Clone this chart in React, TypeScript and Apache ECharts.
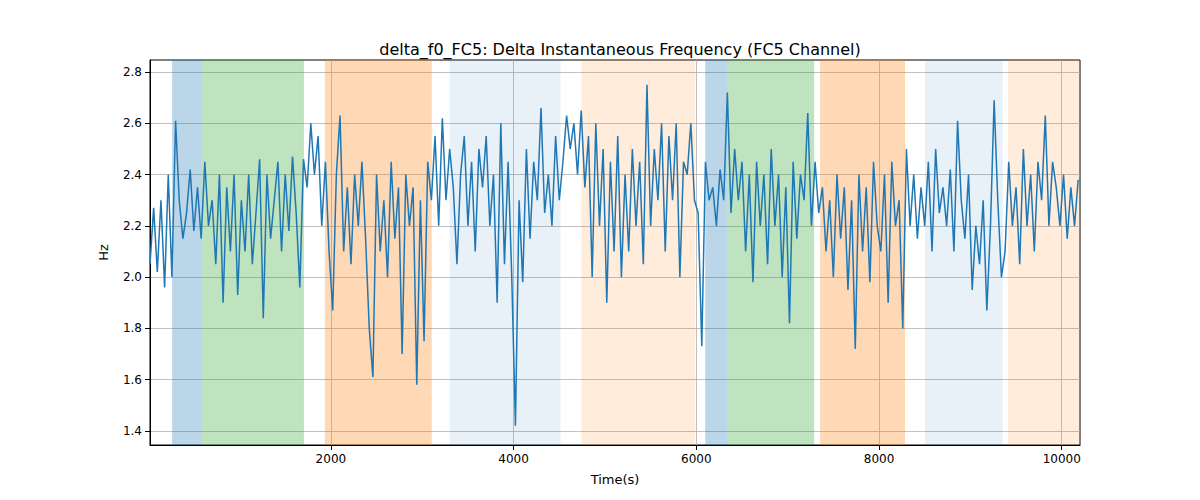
import React, { useEffect, useRef } from "react";
import * as echarts from "echarts";

const X_START = 20;
const X_STEP = 40;
const values = [
2.05,2.27,2.02,2.3,1.96,2.4,2.0,2.61,2.3,2.15,
2.25,2.42,2.18,2.35,2.15,2.45,2.2,2.3,2.05,2.4,
1.9,2.35,2.1,2.4,1.93,2.3,2.1,2.4,2.05,2.25,
2.46,1.84,2.4,2.15,2.3,2.45,2.1,2.4,2.18,2.47,
2.25,1.96,2.46,2.35,2.6,2.4,2.55,2.2,2.45,2.1,
1.87,2.4,2.63,2.1,2.35,2.05,2.4,2.2,2.45,2.15,
1.8,1.61,2.4,2.1,2.3,2.0,2.45,2.15,2.35,1.7,
2.4,2.2,2.35,1.58,2.3,1.75,2.45,2.3,2.55,2.2,
2.62,2.3,2.5,2.35,2.05,2.4,2.55,2.2,2.45,2.1,
2.5,2.35,2.55,2.2,2.4,1.9,2.6,2.05,2.45,2.0,
1.42,2.3,1.98,2.5,2.15,2.45,2.3,2.66,2.25,2.4,
2.2,2.55,2.3,2.45,2.63,2.5,2.6,2.4,2.65,2.35,
2.55,2.0,2.6,2.2,2.5,1.9,2.45,2.1,2.55,2.0,
2.4,2.1,2.5,2.2,2.45,2.05,2.75,2.2,2.5,2.3,
2.6,2.1,2.55,2.3,2.6,2.0,2.45,2.4,2.6,2.3,
2.25,1.73,2.45,2.3,2.35,2.2,2.42,2.3,2.72,2.25,
2.5,2.3,2.45,2.1,2.4,1.98,2.45,2.2,2.4,2.05,
2.5,2.2,2.4,2.0,2.35,1.82,2.45,2.15,2.4,2.3,
2.64,2.2,2.45,2.25,2.35,2.1,2.3,2.0,2.4,2.15,
2.35,1.95,2.3,1.72,2.4,2.1,2.35,1.98,2.45,2.2,
2.1,2.4,1.9,2.45,2.2,2.3,1.8,2.5,2.2,2.4,
2.15,2.35,2.2,2.45,2.1,2.5,2.25,2.35,2.2,2.42,
2.1,2.61,2.3,2.15,2.4,1.95,2.2,2.05,2.3,1.87,
2.2,2.69,2.3,2.0,2.1,2.45,2.2,2.35,2.05,2.5,
2.2,2.4,2.1,2.45,2.3,2.63,2.2,2.45,2.35,2.2,
2.4,2.15,2.35,2.2,2.38
];
const bandStarts = [262, 590, 1934, 3300, 4743, 6098, 6339, 7355, 8503, 9410];
const bandEnds = [590, 1705, 3104, 4514, 5989, 6339, 7290, 8284, 9355, 10200];
const bandColors = [
  "rgba(31,119,180,0.3)", "rgba(44,160,44,0.3)", "rgba(255,127,14,0.3)",
  "rgba(31,119,180,0.1)", "rgba(255,127,14,0.15)",
  "rgba(31,119,180,0.3)", "rgba(44,160,44,0.3)", "rgba(255,127,14,0.3)",
  "rgba(31,119,180,0.1)", "rgba(255,127,14,0.15)",
];
const xTicks = [2000, 4000, 6000, 8000, 10000];
const yTicks = [1.4, 1.6, 1.8, 2.0, 2.2, 2.4, 2.6, 2.8];

export default function App() {
  const ref = useRef<HTMLDivElement>(null);
  useEffect(() => {
    const chart = echarts.init(ref.current!, null, { renderer: "svg" });
    const data = values.map((v, i) => [X_START + i * X_STEP, v]);
    const font = "DejaVu Sans";
    chart.setOption({
      animation: false,
      textStyle: { fontFamily: font },
      title: { text: "delta_f0_FC5: Delta Instantaneous Frequency (FC5 Channel)", left: 615, top: 36, textAlign: "center",
        textStyle: { fontFamily: font, fontSize: 16, fontWeight: "normal", color: "#000" } },
      grid: { left: 150, right: 120, top: 60, bottom: 55, show: true, borderColor: "#000", borderWidth: 1, backgroundColor: "transparent" },
      xAxis: { type: "value", min: 20, max: 10200, name: "Time(s)", nameLocation: "middle", nameGap: 28,
        nameTextStyle: { fontSize: 13, color: "#000" },
        axisLine: { lineStyle: { color: "#000" } },
        axisTick: { customValues: xTicks, lineStyle: { color: "#000" } },
        axisLabel: { customValues: xTicks, color: "#000", fontSize: 12, formatter: (v: number) => String(v) },
        splitLine: { show: true, lineStyle: { color: "#b0b0b0", width: 0.8 } } },
      yAxis: { type: "value", min: 1.345, max: 2.847, name: "Hz", nameLocation: "middle", nameGap: 40,
        nameTextStyle: { fontSize: 13, color: "#000" },
        axisLine: { show: true, lineStyle: { color: "#000" } },
        axisTick: { show: true, customValues: yTicks, lineStyle: { color: "#000" } },
        axisLabel: { customValues: yTicks, color: "#000", fontSize: 12, formatter: (v: number) => v.toFixed(1) },
        splitLine: { show: true, lineStyle: { color: "#b0b0b0", width: 0.8 } } },
      series: [{
        type: "line", data, showSymbol: false, lineStyle: { color: "#1f77b4", width: 1.5 }, itemStyle: { color: "#1f77b4" },
        markArea: { silent: true, data: bandStarts.map((s, i) => [{ xAxis: s, itemStyle: { color: bandColors[i] } }, { xAxis: bandEnds[i] }]) },
      }],
    });
    return () => chart.dispose();
  }, []);
  return <div ref={ref} style={{ width: 1200, height: 500, position: "absolute", left: 0, top: 0 }} />;
}
